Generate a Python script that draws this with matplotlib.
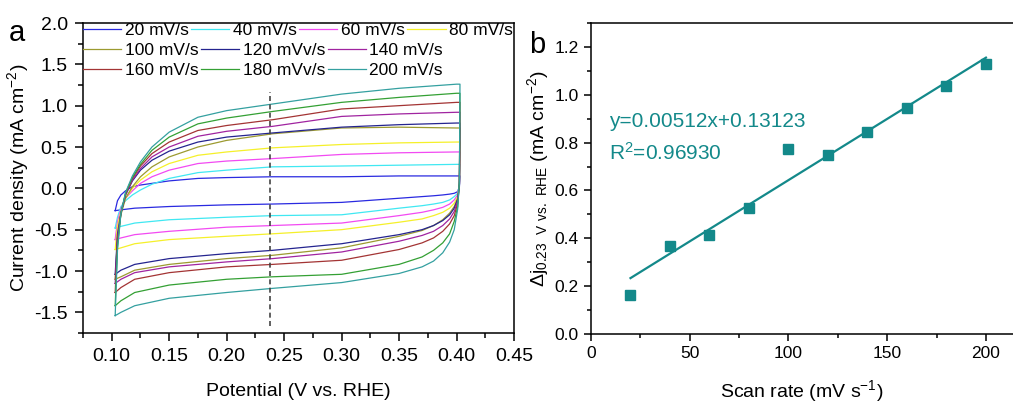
import matplotlib
matplotlib.use("Agg")
import matplotlib.pyplot as plt
from matplotlib.ticker import MultipleLocator, FormatStrFormatter

plt.rcParams['font.family'] = ['Liberation Sans', 'DejaVu Sans']
plt.rcParams['axes.unicode_minus'] = False
plt.rcParams['mathtext.default'] = 'regular'

# ---- panel a: CV curves ----
rates = ["20 mV/s", "40 mV/s", "60 mV/s", "80 mV/s", "100 mV/s",
         "120 mVv/s", "140 mV/s", "160 mV/s", "180 mVv/s", "200 mV/s"]
colors = ['#2a2ae0', '#40e8f2', '#f24af2', '#f5f02a', '#9c9a30',
          '#24248f', '#a024a0', '#a33434', '#34a034', '#34a0a0']

# anodic (upper) branch
E_up = [0.103, 0.105, 0.108, 0.112, 0.118, 0.125, 0.135, 0.15, 0.175, 0.20, 0.24, 0.30, 0.35, 0.40, 0.403]
j_up = [
    [-0.27, -0.15, -0.08, -0.03, 0.02, 0.04, 0.06, 0.09, 0.12, 0.13, 0.14, 0.14, 0.15, 0.15, 0.15],
    [-0.48, -0.35, -0.22, -0.15, -0.08, -0.02, 0.05, 0.12, 0.19, 0.22, 0.26, 0.27, 0.28, 0.29, 0.29],
    [-0.62, -0.40, -0.25, -0.12, -0.03, 0.06, 0.14, 0.22, 0.30, 0.33, 0.36, 0.41, 0.43, 0.44, 0.44],
    [-0.74, -0.45, -0.28, -0.12, 0.00, 0.10, 0.20, 0.30, 0.40, 0.44, 0.49, 0.53, 0.55, 0.56, 0.56],
    [-1.10, -0.60, -0.32, -0.12, 0.02, 0.14, 0.26, 0.38, 0.50, 0.58, 0.66, 0.73, 0.74, 0.73, 0.73],
    [-1.04, -0.55, -0.30, -0.08, 0.09, 0.22, 0.34, 0.45, 0.56, 0.62, 0.67, 0.74, 0.77, 0.79, 0.79],
    [-1.15, -0.60, -0.30, -0.08, 0.10, 0.24, 0.38, 0.50, 0.63, 0.69, 0.75, 0.87, 0.90, 0.92, 0.92],
    [-1.26, -0.65, -0.30, -0.07, 0.12, 0.27, 0.42, 0.56, 0.70, 0.76, 0.83, 0.96, 1.00, 1.04, 1.04],
    [-1.42, -0.70, -0.30, -0.06, 0.13, 0.29, 0.46, 0.62, 0.78, 0.85, 0.93, 1.04, 1.10, 1.15, 1.15],
    [-1.54, -0.75, -0.30, -0.05, 0.15, 0.32, 0.50, 0.68, 0.86, 0.94, 1.02, 1.14, 1.21, 1.26, 1.26],
]

# cathodic (lower) branch
E_dn = [0.403, 0.4025, 0.401, 0.398, 0.394, 0.388, 0.38, 0.37, 0.35, 0.30, 0.24, 0.20, 0.15, 0.12, 0.108, 0.103]
j_dn = [
    [0.15, 0.02, -0.04, -0.06, -0.07, -0.08, -0.09, -0.10, -0.12, -0.17, -0.19, -0.20, -0.22, -0.24, -0.26, -0.27],
    [0.29, 0.04, -0.06, -0.10, -0.14, -0.17, -0.19, -0.21, -0.24, -0.32, -0.33, -0.35, -0.38, -0.42, -0.46, -0.48],
    [0.44, 0.05, -0.08, -0.14, -0.19, -0.23, -0.26, -0.29, -0.33, -0.42, -0.45, -0.47, -0.52, -0.56, -0.60, -0.62],
    [0.56, 0.05, -0.10, -0.18, -0.24, -0.29, -0.33, -0.37, -0.41, -0.50, -0.55, -0.58, -0.62, -0.67, -0.72, -0.74],
    [0.73, 0.05, -0.12, -0.22, -0.30, -0.38, -0.45, -0.51, -0.58, -0.72, -0.81, -0.85, -0.92, -0.99, -1.07, -1.10],
    [0.79, 0.05, -0.13, -0.24, -0.32, -0.39, -0.45, -0.50, -0.56, -0.67, -0.75, -0.79, -0.85, -0.92, -0.99, -1.04],
    [0.92, 0.05, -0.15, -0.28, -0.37, -0.45, -0.52, -0.57, -0.64, -0.77, -0.85, -0.89, -0.95, -1.02, -1.10, -1.15],
    [1.04, 0.05, -0.18, -0.33, -0.43, -0.52, -0.60, -0.66, -0.74, -0.87, -0.92, -0.95, -1.02, -1.10, -1.20, -1.26],
    [1.15, 0.08, -0.22, -0.40, -0.55, -0.66, -0.75, -0.83, -0.92, -1.04, -1.07, -1.10, -1.17, -1.26, -1.36, -1.42],
    [1.26, 0.10, -0.25, -0.50, -0.65, -0.78, -0.88, -0.95, -1.03, -1.14, -1.21, -1.26, -1.33, -1.42, -1.50, -1.54],
]

E_mark = 0.238

# ---- panel b: delta j vs scan rate ----
scan_rate = [20, 40, 60, 80, 100, 120, 140, 160, 180, 200]
delta_j = [0.165, 0.367, 0.415, 0.527, 0.773, 0.748, 0.843, 0.944, 1.035, 1.130]
slope = 0.00512
intercept = 0.13123
r2_text = "R$^2$=0.96930"

teal = '#13898a'

fig = plt.figure(figsize=(10.13, 4.03), dpi=100)

# panel a
ax1 = fig.add_axes([83 / 1013, 70 / 403, 431 / 1013, 310 / 403])
lines = []
for k in range(len(rates)):
    ln, = ax1.plot(E_up + E_dn, j_up[k] + j_dn[k], color=colors[k], lw=0.9, label=rates[k])
    lines.append(ln)
ax1.plot([E_mark, E_mark], [-1.67, 1.165], color='#444444', lw=1.2, ls=(0, (3, 2)))

ax1.set_xlim(0.075, 0.45)
ax1.set_ylim(-1.75, 2.0)
ax1.xaxis.set_major_locator(MultipleLocator(0.05))
ax1.xaxis.set_minor_locator(MultipleLocator(0.025))
ax1.xaxis.set_major_formatter(FormatStrFormatter('%.2f'))
ax1.yaxis.set_major_locator(MultipleLocator(0.5))
ax1.yaxis.set_minor_locator(MultipleLocator(0.25))
ax1.yaxis.set_major_formatter(FormatStrFormatter('%.1f'))
ax1.tick_params(which='both', direction='out', top=False, right=False, labelsize=14, width=1.1)
ax1.tick_params(which='major', length=6, pad=5)
ax1.tick_params(which='minor', length=3.5)
for s in ax1.spines.values():
    s.set_linewidth(1.1)
ax1.set_xlabel("Potential (V vs. RHE)", fontsize=14, labelpad=13)
ax1.set_ylabel("Current density (mA cm$^{-2}$)", fontsize=14, labelpad=2)

# legend rows: 4, 3, 3 entries (one legend per row)
rows = [(0, 4, 1.0), (4, 7, 0.935), (7, 10, 0.87)]
for a, b, ytop in rows:
    leg = ax1.legend(handles=lines[a:b], loc='upper left', bbox_to_anchor=(0.0, ytop),
                     ncol=b - a, frameon=False, fontsize=12.5, handlelength=2.2,
                     handletextpad=0.2, columnspacing=0.15, borderpad=0, borderaxespad=0)
    if b < len(rates):
        ax1.add_artist(leg)

fig.text(17 / 1013, 1 - 33 / 403, "a", fontsize=21, ha='center', va='center')

# panel b
ax2 = fig.add_axes([591 / 1013, 69 / 403, 422 / 1013, 311 / 403])
ax2.plot(scan_rate, delta_j, 's', color=teal, ms=6.5)
fit_x = [scan_rate[0], scan_rate[-1]]
fit_y = [slope * x + intercept for x in fit_x]
ax2.plot(fit_x, fit_y, color=teal, lw=1.6)
ax2.text(9, 0.887, "y=0.00512x+0.13123", color=teal, fontsize=15, va='center')
ax2.text(9, 0.757, r2_text, color=teal, fontsize=15, va='center')

ax2.set_xlim(0, 213.7)
ax2.set_ylim(0, 1.3)
ax2.xaxis.set_major_locator(MultipleLocator(50))
ax2.xaxis.set_minor_locator(MultipleLocator(25))
ax2.yaxis.set_major_locator(MultipleLocator(0.2))
ax2.yaxis.set_minor_locator(MultipleLocator(0.1))
ax2.yaxis.set_major_formatter(FormatStrFormatter('%.1f'))
ax2.spines['right'].set_visible(False)
ax2.tick_params(which='both', direction='out', top=False, right=False, labelsize=12.5, width=1.1)
ax2.tick_params(which='major', length=5, pad=4)
ax2.tick_params(which='minor', length=3)
for s in ax2.spines.values():
    s.set_linewidth(1.1)
ax2.set_xlabel("Scan rate (mV s$^{-1}$)", fontsize=14, labelpad=12)
ax2.set_ylabel(r"$\Delta$j$_{0.23\ \ V\ vs.\ RHE}$ (mA cm$^{-2}$)", fontsize=14, labelpad=2)

fig.text(537 / 1013, 1 - 45 / 403, "b", fontsize=21, ha='center', va='center')

fig.savefig("out.png", dpi=100)
